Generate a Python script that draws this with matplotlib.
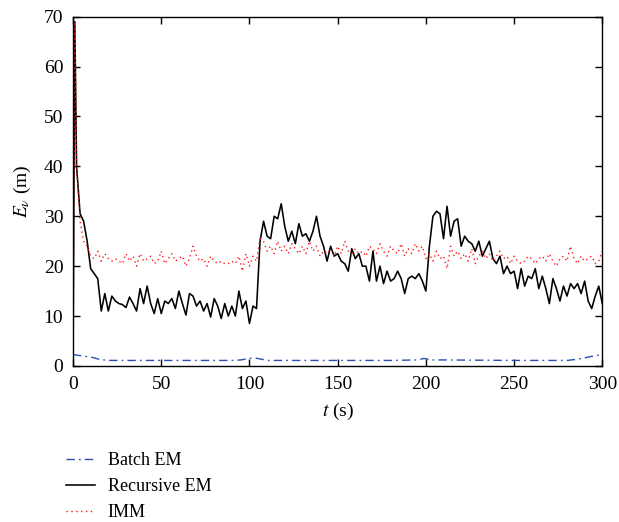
import matplotlib

matplotlib.use("Agg")
import matplotlib.pyplot as plt
import numpy as np

# Recursive EM and IMM are sampled at t = 0, 1 and then every 2 s
T_HEAD = [0, 1]
T_STEP = list(range(2, 301, 2))

RECURSIVE_HEAD = [1.0, 69.0]
RECURSIVE = [
    40, 30.5, 29, 25, 19.5, 18.5, 17.5, 11, 14.5, 11,
    14, 13, 12.5, 12.3, 11.7, 13.8, 12.5, 11, 15.5, 12.5,
    16, 12.5, 10.5, 13.5, 10.5, 13, 12.5, 13.5, 11.5, 15,
    12.5, 10.2, 14.5, 14, 12, 13, 11, 12.5, 9.8, 13.5,
    12, 9.5, 12.5, 10, 12, 10, 15, 11.5, 13, 8.5,
    12, 11.5, 25, 29, 26, 25.5, 30, 29.5, 32.5, 28,
    25, 27, 24.5, 28.5, 26, 26.5, 25, 27, 30, 26,
    24, 21, 24, 22, 22.5, 21, 20.5, 19, 23.5, 21.5,
    22.5, 20, 20, 17, 23, 17, 20, 16.5, 19, 17,
    17.5, 19, 17.5, 14.5, 17.5, 18, 17.5, 18.5, 17, 15,
    24, 30, 31, 30.5, 25.5, 32, 26, 29, 29.5, 24,
    26, 25, 24.5, 23, 25, 22, 23.5, 25, 21.5, 20.5,
    22, 18.5, 20, 18.5, 19, 15.5, 19.5, 16, 18, 17.5,
    19.5, 15.5, 18, 15.5, 12.5, 17.5, 15.5, 13, 16, 14,
    16.5, 15.5, 16.5, 14.5, 17, 13, 11.5, 14, 16, 12.5,
]

IMM_HEAD = [1.0, 69.0]
IMM = [
    40, 29, 25, 24, 22, 21.5, 23, 21, 22.5, 21.5,
    21, 21.5, 21, 20.5, 22.5, 21, 22, 20, 22.5, 21,
    21.5, 22, 20.5, 21, 23, 20.5, 21.5, 22.5, 21, 21.5,
    22, 20, 21.5, 24, 22, 21, 21.5, 20, 22, 21,
    20.5, 21, 20.5, 20.5, 21, 20.5, 22, 19, 22.5, 20,
    22, 21, 25.5, 25, 23, 24, 22.5, 25, 23, 24,
    22.5, 24.5, 23.5, 22.5, 24, 22.5, 25, 23, 24, 22,
    23, 22.5, 23.5, 22, 24, 22.5, 25, 23, 22.5, 23.5,
    22.5, 23, 22, 24, 23.5, 22.5, 24.5, 23, 22, 24,
    23, 22.5, 24.5, 22, 23.5, 22.5, 24.5, 23, 24, 21.5,
    22.5, 21, 23, 21.5, 22, 19.5, 24, 22, 23, 21.5,
    22.5, 21, 23.5, 20.5, 22, 23, 21.5, 22.5, 21, 22,
    23, 21.5, 22, 20.5, 22, 21, 20.5, 21, 22, 21.5,
    20.5, 21.5, 22, 21, 22.5, 21, 20, 21.5, 22, 21,
    24, 21.5, 20.5, 22, 21, 21.5, 22, 20.5, 21, 23,
]

T_BATCH = [0, 5, 10, 15, 20, 40, 60, 80, 90, 95, 100, 103, 106, 110, 120,
           150, 180, 195, 199, 203, 210, 250, 280, 285, 290, 295, 300]
BATCH = [2.3, 2.0, 1.8, 1.3, 1.1, 1.1, 1.1, 1.1, 1.1, 1.2, 1.5, 1.6, 1.4, 1.1, 1.1,
         1.1, 1.1, 1.2, 1.5, 1.2, 1.2, 1.1, 1.1, 1.3, 1.6, 2.0, 2.3]

plt.rcParams["font.family"] = ["Liberation Serif", "DejaVu Serif"]
plt.rcParams["mathtext.fontset"] = "stix"

t_rec = np.array(T_HEAD + T_STEP)
rec = np.array(RECURSIVE_HEAD + RECURSIVE)
imm = np.array(IMM_HEAD + IMM)

fig = plt.figure(figsize=(6.19, 5.22), dpi=100)
ax = fig.add_axes([0.118, 0.299, 0.855, 0.669])

ax.plot(T_BATCH, BATCH, color="#2a4db0", lw=1.0, dashes=(6, 3, 1.2, 3), label="Batch EM")
ax.plot(t_rec, rec, color="black", lw=1.15, label="Recursive EM")
ax.plot(t_rec, imm, color="#ff1a1a", lw=1.0, dashes=(1, 2.5), label="IMM")

ax.set_xlim(0, 300)
ax.set_ylim(0, 70)
ax.set_xticks(np.arange(0, 301, 50))
ax.set_yticks(np.arange(0, 71, 10))
ax.tick_params(direction="in", top=True, right=True, length=5, labelsize=14, width=1.0, pad=7)
for s in ax.spines.values():
    s.set_linewidth(1.0)

ax.set_xlabel(r"$t$ (s)", fontsize=14, labelpad=6)
ax.set_ylabel(r"$E_\nu$ (m)", fontsize=14, labelpad=8)

fig.legend(loc="upper left", bbox_to_anchor=(0.095, 0.148), frameon=False,
           fontsize=13, handlelength=1.6, labelspacing=0.5, handletextpad=0.7,
           borderaxespad=0)

fig.savefig("out.png", dpi=100)
